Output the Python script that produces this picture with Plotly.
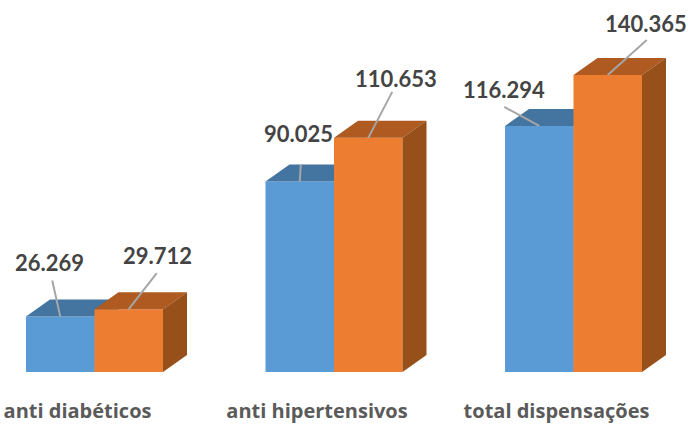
import plotly.graph_objects as go

categories = ["anti diabéticos", "anti hipertensivos", "total dispensações"]
series_a = [26269, 90025, 116294]
series_b = [29712, 110653, 140365]
labels_a = ["26.269", "90.025", "116.294"]
labels_b = ["29.712", "110.653", "140.365"]

# Layout constants (pixels)
W, H = 688, 424
BASE_PX = 372
PX_PER_UNIT = 0.002116
Y_MAX = BASE_PX / PX_PER_UNIT
CENTERS = [94.5, 334, 573.5]
BAR_W = 68.5
DEPTH_X, DEPTH_Y = 24, 17 / PX_PER_UNIT
TICK_SHIFT = -17
BLUE, BLUE_TOP = "#5B9BD5", "#4475A1"
ORANGE, ORANGE_TOP, ORANGE_SIDE = "#ED7D31", "#AE5A21", "#975019"
LEADER = "#A6A6A6"
TEXT = "#444444"
FONT = "Lato, sans-serif"
TICK_FONT = "Open Sans, sans-serif"

# Leader tails and label centres, relative to the top-centre of each bar (px)
tail_a = [(-8, 36), (1, 17), (-35, 19)]
tail_b = [(28, 36), (24, 46), (39, 35)]
text_a = [(-11, 54), (-1.5, 48), (-35, 36)]
text_b = [(29, 54), (28, 59), (38, 51)]

fig = go.Figure()


def poly(x, y, color, xa, ya):
    fig.add_trace(go.Scatter(x=x, y=y, mode="lines", fill="toself", fillcolor=color,
                             line=dict(width=0, color=color), hoverinfo="skip",
                             showlegend=False, xaxis=xa, yaxis=ya))


def faces(x0, x1, v, top, side, xa, ya):
    poly([x0, x1, x1 + DEPTH_X, x0 + DEPTH_X, x0], [v, v, v + DEPTH_Y, v + DEPTH_Y, v], top, xa, ya)
    poly([x1, x1 + DEPTH_X, x1 + DEPTH_X, x1, x1], [v, v + DEPTH_Y, DEPTH_Y, 0, v], side, xa, ya)


bar_a = [c - BAR_W / 2 for c in CENTERS]
bar_b = [c + BAR_W / 2 for c in CENTERS]

# Blue series on the lower axes, orange series on the overlaying axes, so orange covers blue
for x, v in zip(bar_a, series_a):
    faces(x - BAR_W / 2, x + BAR_W / 2, v, BLUE_TOP, BLUE_TOP, "x", "y")
fig.add_trace(go.Bar(x=bar_a, y=series_a, width=BAR_W, marker=dict(color=BLUE, line=dict(width=0)),
                     showlegend=False, xaxis="x", yaxis="y"))
for x, v in zip(bar_b, series_b):
    faces(x - BAR_W / 2, x + BAR_W / 2, v, ORANGE_TOP, ORANGE_SIDE, "x2", "y2")
fig.add_trace(go.Bar(x=bar_b, y=series_b, width=BAR_W, marker=dict(color=ORANGE, line=dict(width=0)),
                     showlegend=False, xaxis="x2", yaxis="y2"))

annotations = []
for xs, vals, tails, texts, labs in [(bar_a, series_a, tail_a, text_a, labels_a),
                                     (bar_b, series_b, tail_b, text_b, labels_b)]:
    for x, v, t, p, lab in zip(xs, vals, tails, texts, labs):
        fig.add_trace(go.Scatter(x=[x, x + t[0]], y=[v, v + t[1] / PX_PER_UNIT], mode="lines",
                                 line=dict(color=LEADER, width=2), hoverinfo="skip",
                                 showlegend=False, xaxis="x2", yaxis="y2"))
        annotations.append(dict(x=x, y=v, xref="x2", yref="y2", xshift=p[0], yshift=p[1], text=f"<b>{lab}</b>",
                                showarrow=False, xanchor="center", yanchor="middle",
                                font=dict(family=FONT, size=22, color=TEXT)))

hidden = dict(showgrid=False, zeroline=False, showticklabels=False, ticks="", showline=False, fixedrange=True)
fig.update_layout(
    width=W, height=H, margin=dict(l=0, r=0, t=0, b=H - BASE_PX),
    paper_bgcolor="white", plot_bgcolor="white", showlegend=False, barmode="overlay",
    annotations=annotations,
    xaxis=dict(range=[0, W], showgrid=False, zeroline=False, showline=False, ticks="", fixedrange=True,
               automargin=False, tickmode="array", tickvals=[c + TICK_SHIFT for c in CENTERS],
               ticktext=[f"<b>{c}</b>" for c in categories], ticklabelstandoff=25,
               tickfont=dict(family=TICK_FONT, size=20, color="#5A5A5A")),
    yaxis=dict(range=[0, Y_MAX], **hidden),
    xaxis2=dict(range=[0, W], overlaying="x", **hidden),
    yaxis2=dict(range=[0, Y_MAX], overlaying="y", **hidden),
)

fig.write_html("out.html", config=dict(displayModeBar=False),
               post_script="document.body.style.margin='0';")
